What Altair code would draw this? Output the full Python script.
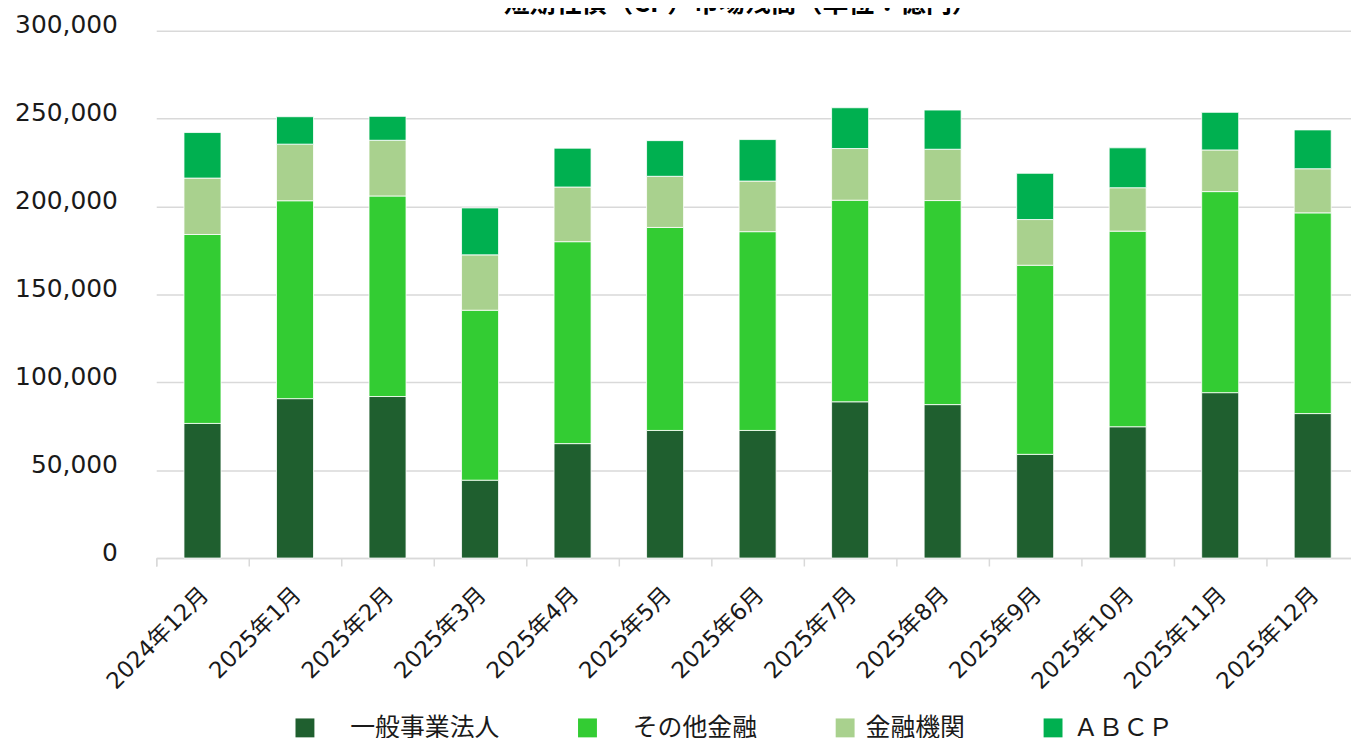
import altair as alt
import pandas as pd

months = ["2024年12月", "2025年1月", "2025年2月", "2025年3月", "2025年4月", "2025年5月",
          "2025年6月", "2025年7月", "2025年8月", "2025年9月", "2025年10月", "2025年11月", "2025年12月"]
series = ["\u200b\u3000一般事業法人", "\u200b\u3000その他金融", "金融機関", "ＡＢＣＰ"]
colors = ["#1f5f2f", "#33cc33", "#a9d18e", "#00b050"]

general = [76600, 90700, 91900, 44300, 65100, 72600, 72600, 88900, 87300, 59000, 74700, 94100, 82200]
other_fin = [107500, 112600, 114100, 96700, 114900, 115500, 113100, 114700, 116100, 107600, 111300, 114400, 114200]
fin_inst = [32100, 32200, 31700, 31500, 31100, 29100, 28800, 29400, 29200, 26000, 24700, 23700, 25100]
abcp = [25900, 15600, 13600, 26700, 22100, 20300, 23600, 23200, 22300, 26300, 22700, 21400, 22100]

y_ticks = [0, 50000, 100000, 150000, 200000, 250000, 300000]

rows = []
for si, (name, vals) in enumerate(zip(series, [general, other_fin, fin_inst, abcp])):
    for m, v in zip(months, vals):
        rows.append({"month": m, "series": name, "value": v, "idx": si})
df = pd.DataFrame(rows)

LABEL_FONT = "DejaVu Sans, Noto Sans CJK JP"
CJK_FONT = "Noto Sans CJK JP"

chart = alt.Chart(df).mark_bar(stroke="#ffffff", strokeWidth=0.8).encode(
    x=alt.X("month:N", sort=months, title=None,
            scale=alt.Scale(range=[0, 1209], paddingInner=0.6, paddingOuter=0.3),
            axis=alt.Axis(labelAngle=315, labelAlign="right", labelBaseline="middle",
                          labelFont=LABEL_FONT, labelFontSize=23, labelColor="#1a1a1a",
                          labelPadding=25, labelOffset=30, bandPosition=0, tickExtra=True,
                          tickOffset=-27.9, tickSize=8, tickColor="#d9d9d9",
                          tickWidth=1.5, domainColor="#d9d9d9", domainWidth=1.5, grid=False)),
    y=alt.Y("value:Q", stack="zero", title=None,
            scale=alt.Scale(domain=[0, 300000], nice=False),
            axis=alt.Axis(values=y_ticks, format=",.0f", labelFont=LABEL_FONT, labelFontSize=25,
                          labelColor="#1a1a1a", labelPadding=39, labelOffset=-6, ticks=False,
                          domain=False, grid=True, gridColor="#d9d9d9", gridWidth=1.5)),
    color=alt.Color("series:N", sort=series,
                    scale=alt.Scale(domain=series, range=colors),
                    legend=alt.Legend(title=None, orient="none", legendX=137, legendY=688,
                                      direction="horizontal", columns=4, symbolType="square",
                                      symbolSize=361, symbolStrokeWidth=0, labelFont=CJK_FONT,
                                      labelFontSize=25, labelColor="#1a1a1a", labelOffset=8,
                                      labelLimit=400, columnPadding=75, padding=0)),
    order=alt.Order("idx:Q", sort="ascending"),
).properties(
    width=1201,
    height=530,
    padding={"left": 149, "top": 21, "right": 0, "bottom": 179},
    autosize=alt.AutoSizeParams(type="none"),
    title=alt.TitleParams("短期社債（CP）市場残高（単位：億円）", font=CJK_FONT, fontSize=26,
                          fontWeight="bold", color="#000000", anchor="middle", offset=-4, dx=-13),
).configure_view(stroke=None)

chart.save("out.html", embed_options={"renderer": "svg", "actions": False})
